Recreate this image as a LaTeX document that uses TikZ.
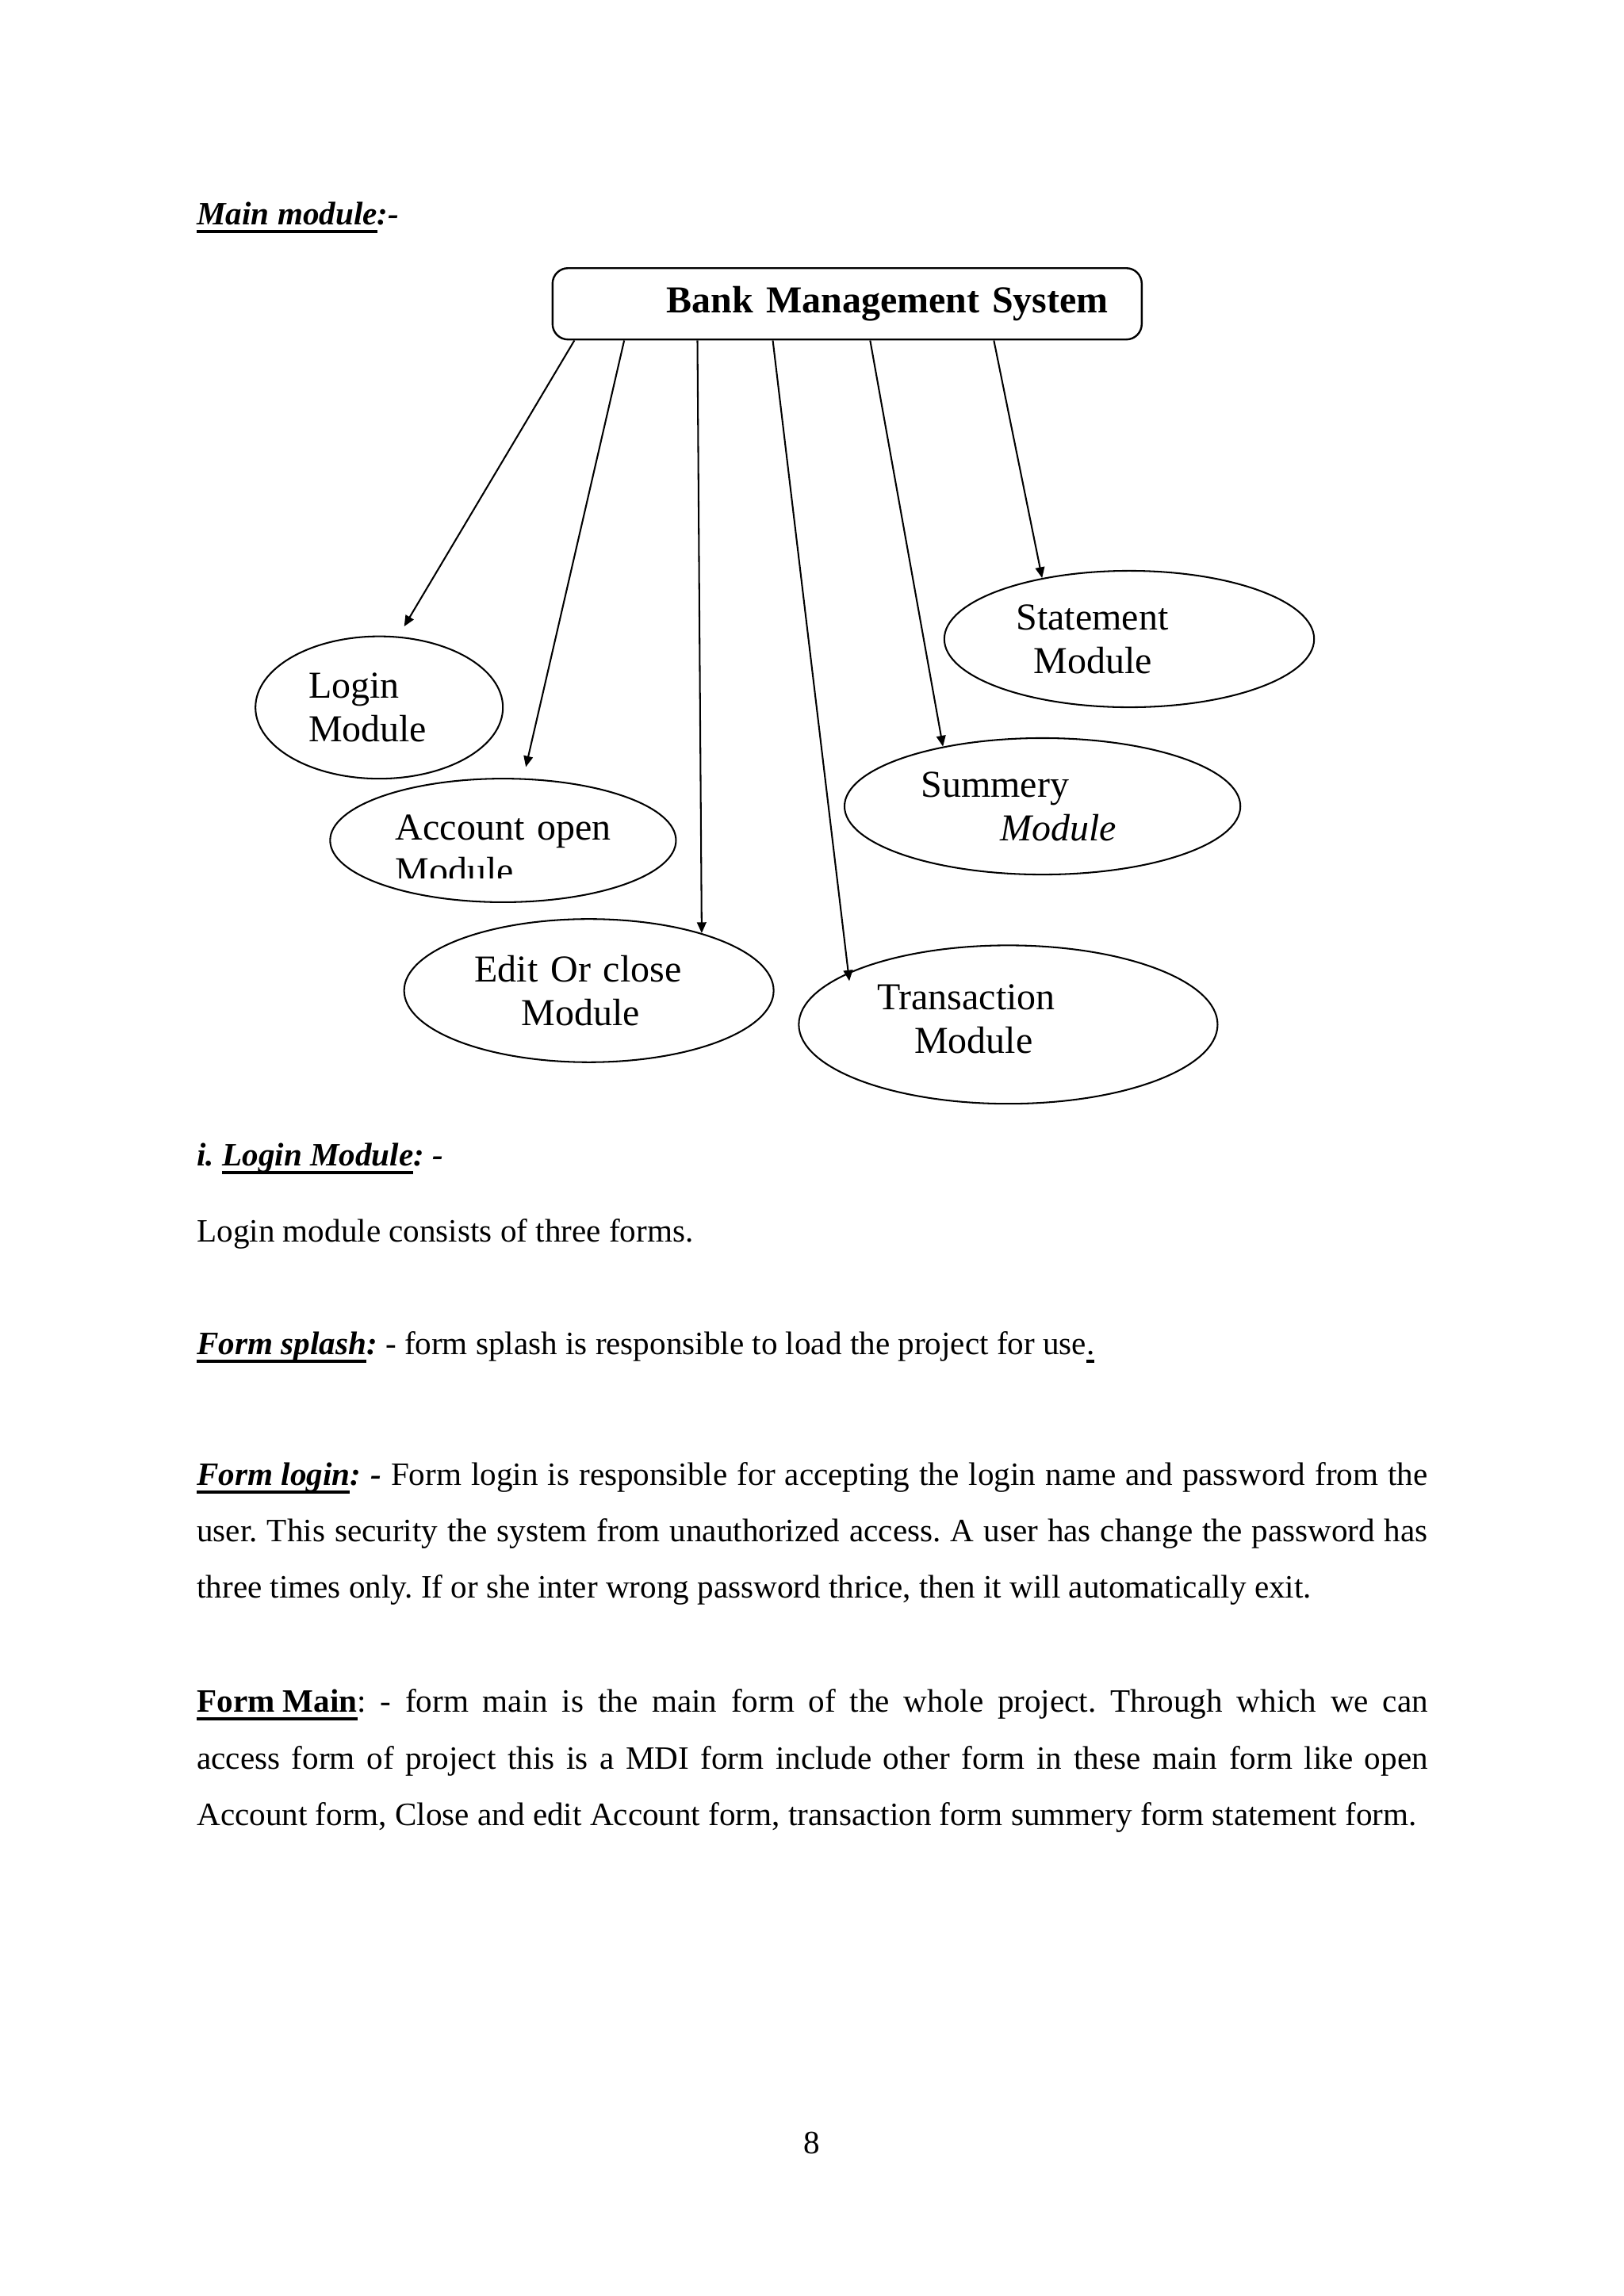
\documentclass[tikz,border=0pt]{standalone}
\usepackage{fontspec}
\setmainfont{Liberation Serif}
\usetikzlibrary{shapes.geometric,arrows.meta}

\frenchspacing
\newcommand\bodyfont{\fontsize{12}{20.8}\selectfont}
\newcommand\modfont{\fontsize{14}{16}\selectfont}
\newsavebox\ulinebox
\newcommand\ulin[1]{\sbox\ulinebox{#1}\rlap{\rule[-3.1pt]{\wd\ulinebox}{1.2pt}}\usebox\ulinebox}

\tikzset{
  sysbox/.style={draw, rounded corners=0.2cm, line width=0.7pt, minimum width=7.62cm, minimum height=0.923cm,
    text width=6.76cm, inner xsep=0.43cm, inner ysep=0pt, align=right, font=\modfont\bfseries},
  module/.style={ellipse, draw, line width=0.6pt, inner sep=0pt, align=left, font=\modfont},
  modarrow/.style={-{Triangle[length=4pt,width=3.4pt]}, line width=0.6pt},
  headline/.style={anchor=base west, inner sep=0pt, font=\bodyfont},
  bodytext/.style={anchor=base west, inner sep=0pt, text width=15.92cm, align=justify, font=\bodyfont}
}

\begin{document}
\begin{tikzpicture}
    \fill[white] (0,0) rectangle (21,-29.7);
    \useasboundingbox (0,0) rectangle (21,-29.7);

    \node[headline] (mainhead) at (2.54,-2.905) {\textbf{\textit{\ulin{Main module}:-}}};
    \node[sysbox] (bms) at (10.956,-3.93) {Bank Management System};

    \node[module, minimum width=3.200cm, minimum height=1.841cm, text width=1.829cm] (login) at (4.904,-9.152) {Login\\Module};
    \node[module, minimum width=4.473cm, minimum height=1.598cm, text width=2.78cm] (account) at (6.506,-10.871) {\rule{0pt}{0.55cm}\mbox{Account open}\\Module};
    \fill[white] ([xshift=-1.40cm,yshift=-0.494cm]account.center) rectangle ([xshift=0.30cm,yshift=-0.60cm]account.center);
    \node[module, minimum width=4.779cm, minimum height=1.852cm, text width=2.958cm] (edit) at (7.616,-12.814) {Edit Or close\\\hspace*{0.608cm}Module};
    \node[module, minimum width=5.416cm, minimum height=2.049cm, text width=3.393cm] (trans) at (13.039,-13.253) {Transaction\\\hspace*{0.485cm}Module\rule[-0.14cm]{0pt}{0.14cm}};
    \node[module, minimum width=5.120cm, minimum height=1.765cm, text width=3.140cm] (summery) at (13.482,-10.430) {Summery\\\hspace*{1.021cm}\textit{Module}};
    \node[module, minimum width=4.783cm, minimum height=1.765cm, text width=2.924cm] (statement) at (14.604,-8.266) {Statement\\\hspace*{0.229cm}Module};

    \draw[modarrow, shorten >=0.15cm] ([xshift=0.295cm]bms.south west) -- (login.75);
    \draw[modarrow, shorten >=0.15cm] ([xshift=0.939cm]bms.south west) -- (account.72);
    \draw[modarrow] ([xshift=1.886cm]bms.south west) -- (edit.27.5);
    \draw[modarrow, shorten >=-0.11cm] ([xshift=2.861cm]bms.south west) -- (trans.162.6);
    \draw[modarrow] ([xshift=4.120cm]bms.south west) -- (summery.149);
    \draw[modarrow] ([xshift=5.720cm]bms.south west) -- (statement.145.4);

    \node[headline] (loginhead) at (2.54,-15.080) {\textbf{\textit{i. \ulin{Login Module}: -}}};
    \node[headline] (logintext) at (2.54,-16.065) {Login module consists of three forms.};
    \node[headline] (splash) at (2.54,-17.517) {\textbf{\textit{\ulin{Form splash}:}} - form splash is responsible to load the project for use\ulin{.}};
    \node[bodytext] (formlogin) at (2.54,-19.209) {\textbf{\textit{\ulin{Form login}: -}} Form login is responsible for accepting the login name and password from the\linebreak
      user. This security the system from unauthorized access. A user has change the password has\linebreak
      three times only. If or she inter wrong password thrice, then it will automatically exit.};
    \node[bodytext] (formmain) at (2.54,-22.149) {\textbf{\ulin{Form Main}}: - form main is the main form of the whole project. Through which we can\linebreak
      access form of project this is a MDI form include other form in these main form like open\linebreak
      Account form, Close and edit Account form, transaction form summery form statement form.};

    \node[anchor=base, inner sep=0pt, font=\bodyfont] (pagenum) at (10.5,-27.857) {8};
\end{tikzpicture}
\end{document}
